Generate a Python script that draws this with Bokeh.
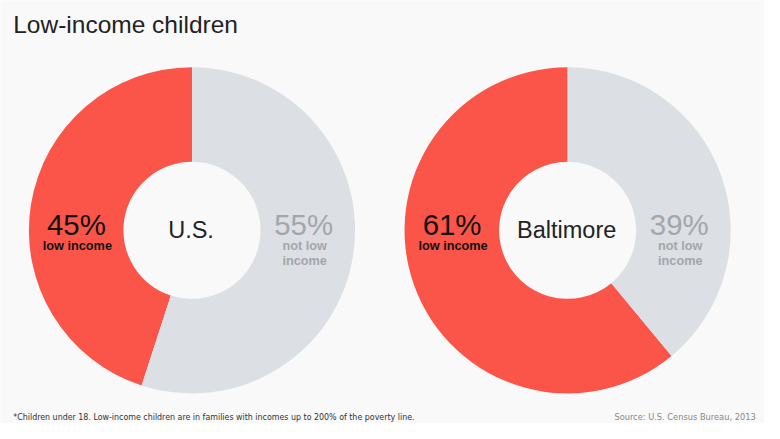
import math
from bokeh.plotting import figure
from bokeh.models import Range1d
from bokeh.core.properties import value
from bokeh.embed import file_html
from bokeh.resources import INLINE

# ---- data ----
places = ["U.S.", "Baltimore"]
low_income_pct = [45, 61]
not_low_pct = [55, 39]
title = "Low-income children"
footnote = "*Children under 18. Low-income children are in families with incomes up to 200% of the poverty line."
source = "Source: U.S. Census Bureau, 2013"

# ---- layout ----
W, H = 764, 423          # plot size in pixels
RW, RH = 780, 439        # reference coordinate space
BG = "#f9f9f9"
RED = "#fa5548"
GRAY = "#dcdfe3"
LABEL_GRAY = "#a3a7ab"
FONT = value("Liberation Sans")
NARROW = value("DejaVu Sans Condensed")
S = W / RW

def fs(px):
    return f"{px * S:.1f}px"

def Y(top):
    return RH - top

p = figure(width=W, height=H, output_backend="svg", toolbar_location=None,
           x_range=Range1d(0, RW), y_range=Range1d(0, RH), min_border=0)
p.axis.visible = False
p.grid.visible = False
p.outline_line_color = None
p.background_fill_color = BG
p.border_fill_color = BG

centers_x = [195.5, 579]
cy = 238.5
outer_r = 166.5
inner_r = 70

for i, name in enumerate(places):
    cx = centers_x[i]
    frac = low_income_pct[i] / 100.0
    start = math.pi / 2
    mid = start + frac * 2 * math.pi
    p.annular_wedge(x=[cx], y=[Y(cy)], inner_radius=inner_r, outer_radius=outer_r,
                    start_angle=[start], end_angle=[mid], fill_color=RED, line_color=None)
    p.annular_wedge(x=[cx], y=[Y(cy)], inner_radius=inner_r, outer_radius=outer_r,
                    start_angle=[mid], end_angle=[start + 2 * math.pi], fill_color=GRAY, line_color=None)
    # center label
    p.text(x=[cx - 1], y=[Y(cy)], text=[name], text_font=FONT, text_font_size=fs(24),
           text_color="#222222", text_align="center", text_baseline="middle")
    # left label
    lx = cx - 118
    p.text(x=[lx], y=[Y(232)], text=[f"{low_income_pct[i]}%"], text_font=FONT,
           text_font_size=fs(30), text_color="#111111", text_align="center", text_baseline="middle")
    p.text(x=[lx + 1], y=[Y(255)], text=["low income"], text_font=FONT, text_font_style="bold",
           text_font_size=fs(13), text_color="#111111", text_align="center", text_baseline="middle")
    # right label
    rx = cx + 114
    p.text(x=[rx], y=[Y(232)], text=[f"{not_low_pct[i]}%"], text_font=FONT,
           text_font_size=fs(30), text_color=LABEL_GRAY, text_align="center", text_baseline="middle")
    p.text(x=[rx + 1, rx + 1], y=[Y(255), Y(270)], text=["not low", "income"], text_font=FONT,
           text_font_style="bold", text_font_size=fs(13), text_color=LABEL_GRAY,
           text_align="center", text_baseline="middle")

p.text(x=[13], y=[Y(25)], text=[title], text_font=FONT, text_font_size=fs(25),
       text_color="#222222", text_align="left", text_baseline="middle")
p.text(x=[13], y=[Y(432)], text=[footnote], text_font=NARROW,
       text_font_size=fs(9), text_color="#333333", text_align="left", text_baseline="middle")
p.text(x=[771], y=[Y(432)], text=[source], text_font=NARROW,
       text_font_size=fs(9.4), text_color="#888888", text_align="right", text_baseline="middle")

open("out.html", "w").write(file_html(p, INLINE))
